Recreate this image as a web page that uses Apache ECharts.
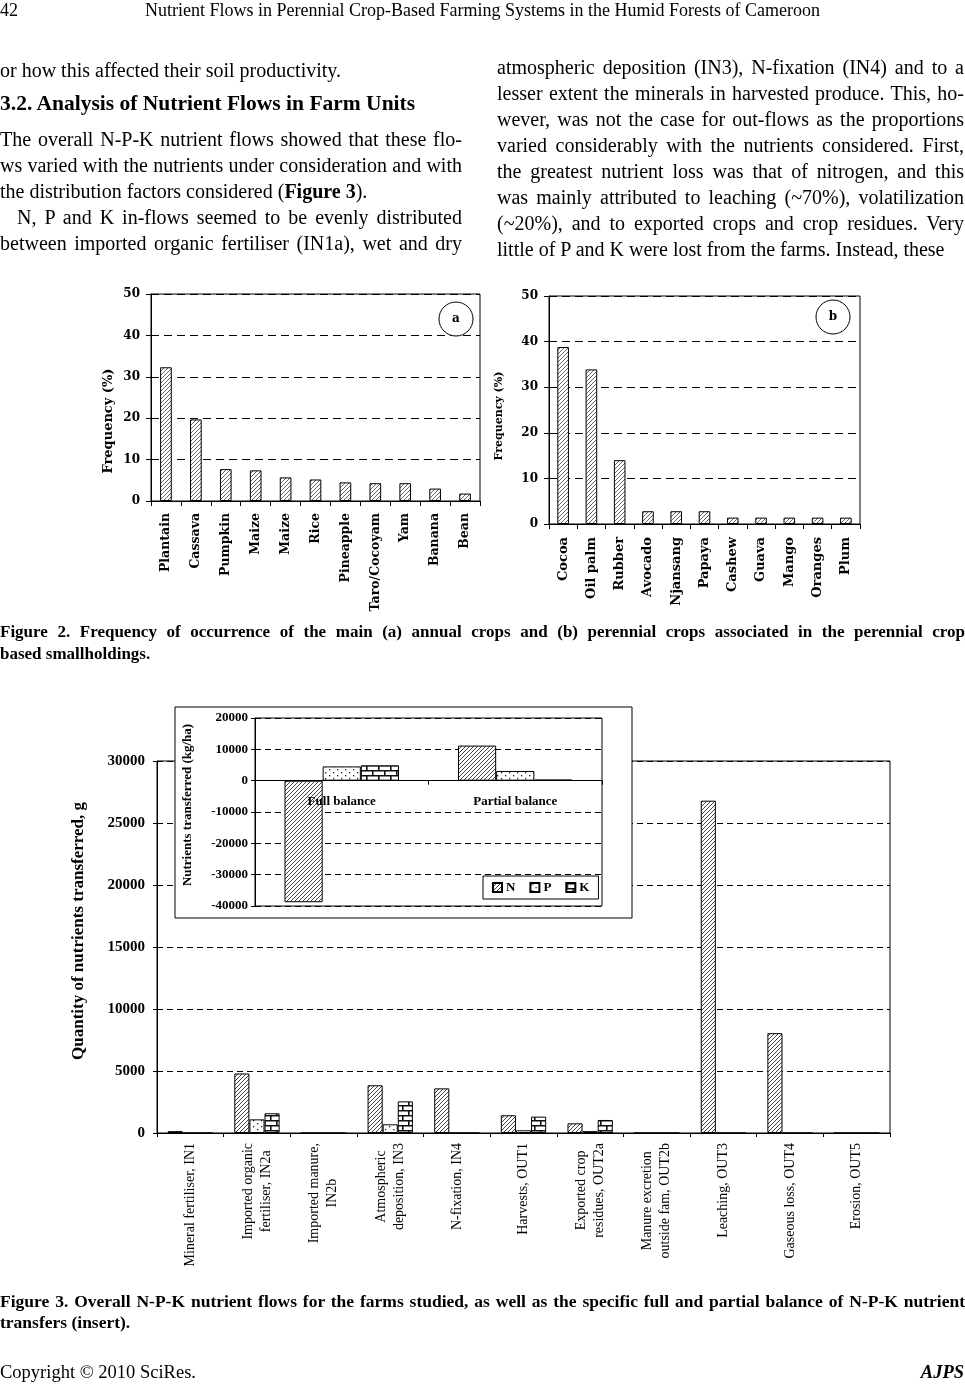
<!DOCTYPE html>
<html><head><meta charset="utf-8">
<script src="https://cdn.jsdelivr.net/npm/echarts@6/dist/echarts.min.js"></script>
<style>
html,body{margin:0;padding:0;background:#fff;}
#page{position:relative;width:965px;height:1386px;overflow:hidden;font-family:"Liberation Serif","Times New Roman",serif;color:#000;}
#chart{position:absolute;left:0;top:0;width:965px;height:1386px;}
.t{position:absolute;white-space:nowrap;line-height:26px;font-size:20px;}
.j{text-align:justify;text-align-last:justify;}
.c{line-height:22px;font-size:17px;font-weight:bold;}
</style></head>
<body>
<div id="page">
<div id="chart"></div>
<div class="t" style="left:0;top:-3px;font-size:18px;">42</div>
<div class="t" style="left:0;top:-3px;width:965px;text-align:center;font-size:18px;">Nutrient Flows in Perennial Crop-Based Farming Systems in the Humid Forests of Cameroon</div>

<div class="t" style="left:0;top:57px;width:462px;">or how this affected their soil productivity.</div>
<div class="t" style="left:0;top:90px;width:462px;font-weight:bold;font-size:21.5px;">3.2. Analysis of Nutrient Flows in Farm Units</div>
<div class="t j" style="left:0;top:126px;width:462px;">The overall N-P-K nutrient flows showed that these flo-</div>
<div class="t j" style="left:0;top:152px;width:462px;">ws varied with the nutrients under consideration and with</div>
<div class="t" style="left:0;top:178px;width:462px;">the distribution factors considered (<b>Figure 3</b>).</div>
<div class="t j" style="left:0;top:204px;width:462px;text-indent:17px;">N, P and K in-flows seemed to be evenly distributed</div>
<div class="t j" style="left:0;top:230px;width:462px;">between imported organic fertiliser (IN1a), wet and dry</div>

<div class="t j" style="left:497px;top:54px;width:467px;">atmospheric deposition (IN3), N-fixation (IN4) and to a</div>
<div class="t j" style="left:497px;top:80px;width:467px;">lesser extent the minerals in harvested produce. This, ho-</div>
<div class="t j" style="left:497px;top:106px;width:467px;">wever, was not the case for out-flows as the proportions</div>
<div class="t j" style="left:497px;top:132px;width:467px;">varied considerably with the nutrients considered. First,</div>
<div class="t j" style="left:497px;top:158px;width:467px;">the greatest nutrient loss was that of nitrogen, and this</div>
<div class="t j" style="left:497px;top:184px;width:467px;">was mainly attributed to leaching (~70%), volatilization</div>
<div class="t j" style="left:497px;top:210px;width:467px;">(~20%), and to exported crops and crop residues. Very</div>
<div class="t" style="left:497px;top:236px;width:467px;">little of P and K were lost from the farms. Instead, these</div>

<div class="t j c" style="left:0;top:621px;width:965px;">Figure 2. Frequency of occurrence of the main (a) annual crops and (b) perennial crops associated in the perennial crop</div>
<div class="t c" style="left:0;top:643px;width:965px;">based smallholdings.</div>

<div class="t j c" style="left:0;top:1290px;width:965px;font-size:17.5px;">Figure 3. Overall N-P-K nutrient flows for the farms studied, as well as the specific full and partial balance of N-P-K nutrient</div>
<div class="t c" style="left:0;top:1311px;width:965px;font-size:17.5px;">transfers (insert).</div>

<div class="t" style="left:0;top:1359px;font-size:18.5px;">Copyright © 2010 SciRes.</div>
<div class="t" style="right:1px;top:1359px;font-size:18.5px;font-weight:bold;font-style:italic;">AJPS</div>
</div>
<script>
// ---------- DATA ----------
const annualCrops = ['Plantain','Cassava','Pumpkin','Maize','Maize','Rice','Pineapple','Taro/Cocoyam','Yam','Banana','Bean'];
const annualFreq = [32.3, 19.7, 7.7, 7.4, 5.7, 5.2, 4.5, 4.3, 4.3, 3.0, 1.8];

const perennialCrops = ['Cocoa','Oil palm','Rubber','Avocado','Njansang','Papaya','Cashew','Guava','Mango','Oranges','Plum'];
const perennialFreq = [38.8, 33.9, 14.0, 2.8, 2.8, 2.8, 1.4, 1.4, 1.4, 1.4, 1.4];

const flowCategories = ['Mineral fertiliser, IN1','Imported organic\nfertiliser, IN2a','Imported manure,\nIN2b','Atmospheric\ndeposition, IN3','N-fixation, IN4','Harvests, OUT1','Exported crop\nresidues, OUT2a','Manure excretion\noutside fam, OUT2b','Leaching, OUT3','Gaseous loss, OUT4','Erosion, OUT5'];
const flowN = [150, 4800, 0, 3850, 3600, 1430, 780, 0, 26800, 8050, 0];
const flowP = [0, 1100, 0, 700, 0, 220, 150, 0, 0, 0, 0];
const flowK = [0, 1590, 0, 2550, 0, 1320, 1050, 0, 0, 0, 0];

const balanceCategories = ['Full balance','Partial balance'];
const balanceN = [-38800, 11200];
const balanceP = [4550, 3100];
const balanceK = [4900, 350];

const nutrientNames = ['N','P','K'];

// ---------- PATTERNS ----------
function hatchCanvas(size, color, lw){
  const c=document.createElement('canvas'); c.width=c.height=size;
  const g=c.getContext('2d'); g.fillStyle='#fff'; g.fillRect(0,0,size,size);
  g.strokeStyle=color; g.lineWidth=lw; g.beginPath();
  g.moveTo(0,size); g.lineTo(size,0);
  g.moveTo(-size/2,size/2); g.lineTo(size/2,-size/2);
  g.moveTo(size/2,size*1.5); g.lineTo(size*1.5,size/2);
  g.stroke(); return c;
}
function dotCanvas(){
  const c=document.createElement('canvas'); c.width=8; c.height=6;
  const g=c.getContext('2d'); g.fillStyle='#fff'; g.fillRect(0,0,8,6);
  g.fillStyle='#222'; g.fillRect(1,1,1.3,1.3); g.fillRect(5,4,1.3,1.3); return c;
}
function brickCanvas(){
  const c=document.createElement('canvas'); c.width=12; c.height=10;
  const g=c.getContext('2d'); g.fillStyle='#fff'; g.fillRect(0,0,12,10);
  g.strokeStyle='#111'; g.lineWidth=1.6; g.beginPath();
  g.moveTo(0,0.8); g.lineTo(12,0.8); g.moveTo(0,5.8); g.lineTo(12,5.8);
  g.moveTo(0.8,0); g.lineTo(0.8,5.8); g.moveTo(6.8,5.8); g.lineTo(6.8,10);
  g.stroke(); return c;
}
const patHatchGray = {image: hatchCanvas(4, '#666', 1), repeat:'repeat'};
const patHatch = {image: hatchCanvas(4, '#444', 1), repeat:'repeat'};
const patDots = {image: dotCanvas(), repeat:'repeat'};
const patBrick = {image: brickCanvas(), repeat:'repeat'};
const nutrientFills = [patHatch, patDots, patBrick];

// ---------- STYLE HELPERS ----------
const fig2Font = 'DejaVu Serif';
const fig3Font = 'Liberation Serif';
const black = '#000';
const plain = v => String(v);
function fig2X(grid, data, size, margin){
  return {gridIndex:grid, type:'category', data:data,
    axisLine:{show:true, lineStyle:{color:black, width:1}},
    axisTick:{show:true, length:5, lineStyle:{color:black}},
    axisLabel:{interval:0, rotate:90, margin:margin, fontFamily:fig2Font, fontWeight:'bold', fontSize:size, color:black},
    splitLine:{show:false}};
}
function fig2Y(grid, nameSize, nameGap, pad){
  return {gridIndex:grid, type:'value', min:0, max:50, interval:10,
    name:'Frequency (%)', nameLocation:'middle', nameGap:nameGap, nameMoveOverlap:false,
    nameTextStyle:{fontFamily:fig2Font, fontWeight:'bold', fontSize:nameSize, color:black, padding:pad},
    axisLine:{show:true, lineStyle:{color:black, width:1}},
    axisTick:{show:true, length:5, lineStyle:{color:black}},
    axisLabel:{margin:11, fontFamily:fig2Font, fontWeight:'bold', fontSize:12, color:black, formatter:plain},
    splitLine:{show:true, lineStyle:{type:[8,5], color:black, width:1}}};
}
function centerLines(v){ return v.split('\n').map(s=>'{c|'+s+'}').join('\n'); }

const chart = echarts.init(document.getElementById('chart'), null, {renderer:'canvas'});
const option = {
  animation:false,
  backgroundColor:'transparent',
  grid:[
    {left:151, top:294, width:329, height:207, show:true, borderColor:black, borderWidth:1, containLabel:false, outerBoundsMode:'none'},
    {left:549, top:296, width:311, height:228, show:true, borderColor:black, borderWidth:1, containLabel:false, outerBoundsMode:'none'},
    {left:157, top:761, width:733, height:372, show:true, borderColor:black, borderWidth:1, containLabel:false, outerBoundsMode:'none'},
    {left:255, top:718, width:347, height:188, show:true, borderColor:black, borderWidth:1, containLabel:false, outerBoundsMode:'none', z:11}
  ],
  xAxis:[
    fig2X(0, annualCrops, 12.5, 12),
    fig2X(1, perennialCrops, 13, 13),
    {gridIndex:2, type:'category', data:flowCategories,
      axisLine:{show:true, lineStyle:{color:black}},
      axisTick:{show:true, length:4, lineStyle:{color:black}},
      axisLabel:{interval:0, rotate:90, margin:10, fontFamily:fig3Font, fontSize:14, color:black, lineHeight:18,
        formatter:centerLines, rich:{c:{align:'center', fontFamily:fig3Font, fontSize:14, color:black, lineHeight:18}}},
      splitLine:{show:false}},
    {gridIndex:3, type:'category', data:balanceCategories, z:13,
      axisLine:{show:true, onZero:true, lineStyle:{color:black}},
      axisTick:{show:true, length:4, lineStyle:{color:black}},
      axisLabel:{interval:0, margin:-111, fontFamily:fig3Font, fontWeight:'bold', fontSize:13, color:black},
      splitLine:{show:false}}
  ],
  yAxis:[
    fig2Y(0, 13, 36, [0,47,0,0]),
    fig2Y(1, 11, 44, [0,12,0,0]),
    {gridIndex:2, type:'value', min:0, max:30000, interval:5000,
      name:'Quantity of nutrients transferred, g', nameLocation:'middle', nameGap:70, nameMoveOverlap:false,
      nameTextStyle:{fontFamily:fig3Font, fontWeight:'bold', fontSize:17, color:black, padding:[0,0,0,32]},
      axisLine:{show:true, lineStyle:{color:black}},
      axisTick:{show:true, length:4, lineStyle:{color:black}},
      axisLabel:{margin:12, fontFamily:fig3Font, fontWeight:'bold', fontSize:15, color:black, formatter:plain},
      splitLine:{show:true, lineStyle:{type:[6,4], color:black, width:1}}},
    {gridIndex:3, type:'value', min:-40000, max:20000, interval:10000, z:11,
      name:'Nutrients transferred (kg/ha)', nameLocation:'middle', nameGap:61, nameMoveOverlap:false,
      nameTextStyle:{fontFamily:fig3Font, fontWeight:'bold', fontSize:13, color:black, padding:[0,0,0,14]},
      axisLine:{show:true, onZero:false, lineStyle:{color:black}},
      axisTick:{show:true, length:4, lineStyle:{color:black}},
      axisLabel:{margin:7, fontFamily:fig3Font, fontWeight:'bold', fontSize:13, color:black, formatter:plain},
      splitLine:{show:true, lineStyle:{type:[6,4], color:black, width:1}}}
  ],
  legend:{
    data:nutrientNames, left:483, top:876, z:14, orient:'horizontal',
    icon:'rect', itemWidth:9, itemHeight:9, itemGap:14,
    borderColor:black, borderWidth:1, padding:[5,9,5,9], backgroundColor:'#fff',
    selectedMode:false,
    textStyle:{fontFamily:fig3Font, fontWeight:'bold', fontSize:13, color:black, padding:[0,0,0,-1]}
  },
  graphic:[
    {type:'rect', z:5, shape:{x:175, y:707, width:457, height:211}, style:{fill:'#fff', stroke:black, lineWidth:1}},
    {type:'circle', z:5, shape:{cx:456, cy:319, r:17}, style:{fill:'#fff', stroke:black, lineWidth:1}},
    {type:'text', z:6, x:456, y:319, style:{text:'a', fontFamily:fig2Font, fontWeight:'bold', fontSize:12, fill:black, align:'center', verticalAlign:'middle'}},
    {type:'circle', z:5, shape:{cx:833, cy:317, r:17}, style:{fill:'#fff', stroke:black, lineWidth:1}},
    {type:'text', z:6, x:833, y:317, style:{text:'b', fontFamily:fig2Font, fontWeight:'bold', fontSize:12, fill:black, align:'center', verticalAlign:'middle'}}
  ],
  series:[
    {type:'bar', xAxisIndex:0, yAxisIndex:0, data:annualFreq, barWidth:'39%', silent:true,
      itemStyle:{color:patHatchGray, borderColor:black, borderWidth:1}},
    {type:'bar', xAxisIndex:1, yAxisIndex:1, data:perennialFreq, barWidth:'41%', silent:true,
      itemStyle:{color:patHatchGray, borderColor:black, borderWidth:1}},
    {type:'bar', name:nutrientNames[0], xAxisIndex:2, yAxisIndex:2, data:flowN, barGap:'0%', barCategoryGap:'32%', silent:true,
      itemStyle:{color:nutrientFills[0], borderColor:black, borderWidth:1}},
    {type:'bar', name:nutrientNames[1], xAxisIndex:2, yAxisIndex:2, data:flowP, barGap:'0%', barCategoryGap:'32%', silent:true,
      itemStyle:{color:nutrientFills[1], borderColor:black, borderWidth:1}},
    {type:'bar', name:nutrientNames[2], xAxisIndex:2, yAxisIndex:2, data:flowK, barGap:'0%', barCategoryGap:'32%', silent:true,
      itemStyle:{color:nutrientFills[2], borderColor:black, borderWidth:1}},
    {type:'bar', name:nutrientNames[0], xAxisIndex:3, yAxisIndex:3, data:balanceN, barGap:'0%', barCategoryGap:'34%', z:12, silent:true,
      itemStyle:{color:nutrientFills[0], borderColor:black, borderWidth:1}},
    {type:'bar', name:nutrientNames[1], xAxisIndex:3, yAxisIndex:3, data:balanceP, barGap:'0%', barCategoryGap:'34%', z:12, silent:true,
      itemStyle:{color:nutrientFills[1], borderColor:black, borderWidth:1}},
    {type:'bar', name:nutrientNames[2], xAxisIndex:3, yAxisIndex:3, data:balanceK, barGap:'0%', barCategoryGap:'34%', z:12, silent:true,
      itemStyle:{color:nutrientFills[2], borderColor:black, borderWidth:1}}
  ]
};
chart.setOption(option);
</script>
</body></html>
